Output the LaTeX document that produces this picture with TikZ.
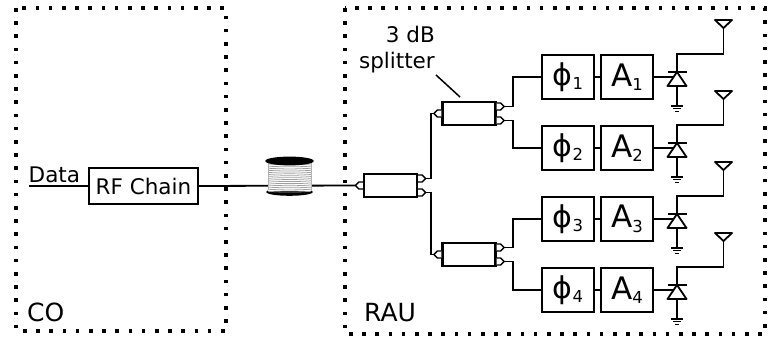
\documentclass[tikz,border=0pt]{standalone}
\usepackage{fontspec}
\setmainfont{DejaVu Sans}
\usetikzlibrary{calc}
\newcommand{\subdigit}[1]{\raisebox{-4.5pt}{\fontsize{16.5}{16.5}\selectfont #1}}
\begin{document}
\begin{tikzpicture}[x=1pt,y=-1pt,
  wire/.style={line width=1.8pt},
  region/.style={line width=3.6pt,dash pattern=on 3.6pt off 9.6pt},
  blk/.style={draw,line width=2.2pt,fill=white,inner sep=0pt,
    minimum width=52pt,minimum height=44pt},
  phibox/.style={blk,font=\fontsize{30}{32}\selectfont},
  ampbox/.style={blk,font=\fontsize{31}{32}\selectfont},
  splitbox/.style={draw,line width=2.2pt,fill=white,inner sep=0pt,
    minimum width=53pt,minimum height=23pt},
  port/.style={draw,line width=1.4pt,fill=white,line join=miter},
  lbl/.style={font=\fontsize{21.5}{24}\selectfont,inner sep=0pt},
  big/.style={font=\fontsize{25}{28}\selectfont,inner sep=0pt}
]
\useasboundingbox (0,0) rectangle (769,339);

% the two sites
\draw[region] (16,8) rectangle (226,331);
\draw[region] (345,8) rectangle (765,334);
\node[big,anchor=base west] (co) at (27,322) {CO};
\node[big,anchor=base west] (rau) at (364,322) {RAU};

% central office chain
\coordinate (datain) at (29,186);
\node[lbl,anchor=base west] (datalbl) at (28.5,182.5) {Data};
\node[draw,line width=2.2pt,fill=white,minimum width=109pt,minimum height=36pt,
  inner sep=0pt,lbl] (rf) at (143.5,186) {RF Chain};
\draw[wire] (datain) -- (rf.west);

% splitters
\node[splitbox] (sp1) at (390.5,185.5) {};
\node[splitbox] (sp2) at (469,113.5) {};
\node[splitbox] (sp3) at (469,254.5) {};

% fibre link to the first splitter
\coordinate (sp1in) at ($(sp1.west)+(-7.5,0)$);
\draw[wire] (rf.east) -- (sp1in);

% fibre spool
\coordinate (spool) at (289.5,176);
\begin{scope}[shift={(spool)}]
  \fill (0,16) ellipse [x radius=23.5pt,y radius=3.8pt];
  \fill[white] (-21.5,-15) rectangle (21.5,15);
  \foreach \k in {0,...,13}
    \draw[gray!75,line width=0.8pt] (-21.5,-12+2.1*\k) .. controls (-8,-11+2.1*\k) and (8,-11+2.1*\k) .. (21.5,-12+2.1*\k);
  \draw[gray!60,line width=0.7pt] (-21.5,-15) -- (-21.5,14) (21.5,-15) -- (21.5,14);
  \fill (0,-15) ellipse [x radius=24.5pt,y radius=4.4pt];
\end{scope}

% splitter ports
\foreach \s in {sp1,sp2,sp3}{
  \draw[port] ($(\s.west)+(0,-3.5)$) -- ++(-4,0) -- ++(-3.5,3.5) -- ++(3.5,3.5) -- ++(4,0);
  \draw[port] ($(\s.east)+(0,-10.5)$) -- ++(4,0) -- ++(3.5,3.5) -- ++(-3.5,3.5) -- ++(-4,0);
  \draw[port] ($(\s.east)+(0,3.5)$) -- ++(4,0) -- ++(3.5,3.5) -- ++(-3.5,3.5) -- ++(-4,0);
  \coordinate (\s in) at ($(\s.west)+(-7.5,0)$);
  \coordinate (\s o1) at ($(\s.east)+(7.5,-7)$);
  \coordinate (\s o2) at ($(\s.east)+(7.5,7)$);
}

% splitter label
\node[lbl,anchor=base east] (splab1) at (435,43) {3 dB};
\node[lbl,anchor=base east] (splab2) at (435,69) {splitter};
\coordinate (leadA) at (436,75);
\coordinate (leadB) at (460,97);
\draw[line width=1.5pt] (leadA) -- (leadB);

% first split
\coordinate (br1) at (431,0);
\draw[wire] (sp1o1) -- (sp1o1 -| br1) |- (sp2in);
\draw[wire] (sp1o2) -- (sp1o2 -| br1) |- (sp3in);

% phase shifters and amplifiers
\foreach \r/\yc in {1/77,2/148,3/219,4/290}{
  \node[phibox] (phi\r) at (568,\yc) {ϕ\subdigit{\r}};
  \node[ampbox] (amp\r) at (627,\yc) {A\subdigit{\r}};
  \draw[wire] (phi\r) -- (amp\r);
}

% second split
\coordinate (br2) at (513,0);
\draw[wire] (sp2o1) -- (sp2o1 -| br2) |- (phi1.west);
\draw[wire] (sp2o2) -- (sp2o2 -| br2) |- (phi2.west);
\draw[wire] (sp3o1) -- (sp3o1 -| br2) |- (phi3.west);
\draw[wire] (sp3o2) -- (sp3o2 -| br2) |- (phi4.west);

% diodes, antennas and grounds
\foreach \r/\yc in {1/77,2/148,3/219,4/290}{
  \coordinate (dio\r) at (677,\yc);
  \coordinate (dioin\r) at (673.6,\yc);
  \coordinate (ant\r) at (723.5,\yc-49);
  \coordinate (gnd\r) at (677,\yc+29);
  \draw[wire,line join=round] ($(dio\r)+(0,-5)$) -- ($(dio\r)+(-9.5,9)$) -- ($(dio\r)+(9.5,9)$) -- cycle;
  \draw[wire] ($(dio\r)+(-9.5,-5)$) -- ($(dio\r)+(9.5,-5)$);
  \draw[wire] (amp\r.east) -- (dioin\r);
  \draw[wire] ($(dio\r)+(0,-5)$) |- ($(ant\r)+(0,26)$) -- (ant\r);
  \draw[wire,line join=round] (ant\r) -- ++(-8.5,-8) -- ++(17,0) -- cycle;
  \draw[wire] ($(dio\r)+(0,9)$) -- (gnd\r);
  \draw[line width=1.4pt] ($(gnd\r)+(-6,0)$) -- ++(12,0)
    ($(gnd\r)+(-4,2.8)$) -- ++(8,0)
    ($(gnd\r)+(-2,5.6)$) -- ++(4,0);
}
\end{tikzpicture}
\end{document}
